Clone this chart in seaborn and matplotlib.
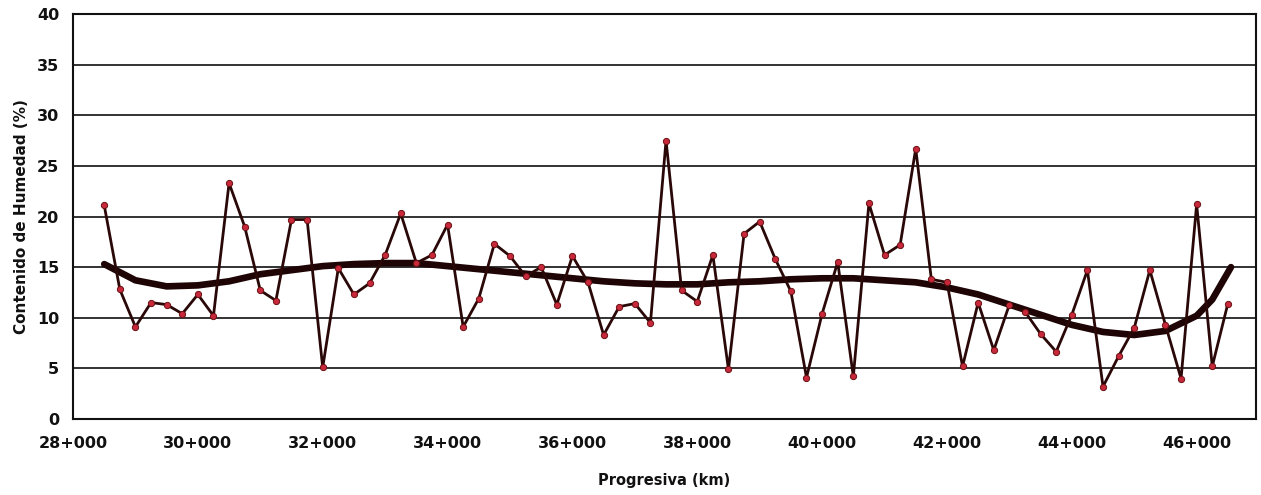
import matplotlib
matplotlib.use("Agg")
import matplotlib.pyplot as plt
import seaborn as sns
from matplotlib.ticker import FuncFormatter, FixedLocator

# ---- data ----
progresiva_km = [28.50, 28.75, 29.00, 29.25, 29.50, 29.75, 30.00, 30.25, 30.50, 30.75,
                 31.00, 31.25, 31.50, 31.75, 32.00, 32.25, 32.50, 32.75, 33.00, 33.25,
                 33.50, 33.75, 34.00, 34.25, 34.50, 34.75, 35.00, 35.25, 35.50, 35.75,
                 36.00, 36.25, 36.50, 36.75, 37.00, 37.25, 37.50, 37.75, 38.00, 38.25,
                 38.50, 38.75, 39.00, 39.25, 39.50, 39.75, 40.00, 40.25, 40.50, 40.75,
                 41.00, 41.25, 41.50, 41.75, 42.00, 42.25, 42.50, 42.75, 43.00, 43.25,
                 43.50, 43.75, 44.00, 44.25, 44.50, 44.75, 45.00, 45.25, 45.50, 45.75,
                 46.00, 46.25, 46.50]
humedad = [21.1, 12.8, 9.1, 11.5, 11.3, 10.4, 12.3, 10.2, 23.3, 19.0,
           12.7, 11.7, 19.7, 19.7, 5.1, 14.9, 12.3, 13.4, 16.2, 20.3,
           15.4, 16.2, 19.2, 9.1, 11.9, 17.3, 16.1, 14.1, 15.0, 11.3,
           16.1, 13.5, 8.3, 11.1, 11.4, 9.5, 27.5, 12.7, 11.6, 16.2,
           4.9, 18.3, 19.5, 15.8, 12.6, 4.1, 10.4, 15.5, 4.2, 21.3,
           16.2, 17.2, 26.7, 13.8, 13.5, 5.2, 11.5, 6.8, 11.3, 10.6,
           8.4, 6.65, 10.3, 14.7, 3.2, 6.2, 9.0, 14.7, 9.3, 4.0,
           21.2, 5.2, 11.4]

tendencia_km = [28.5, 29.0, 29.5, 30.0, 30.5, 31.0, 31.5, 32.0, 32.5, 33.0,
                33.5, 34.0, 34.5, 35.0, 35.5, 36.0, 36.5, 37.0, 37.5, 38.0,
                38.5, 39.0, 39.5, 40.0, 40.5, 41.0, 41.5, 42.0, 42.5, 43.0,
                43.5, 44.0, 44.5, 45.0, 45.5, 46.0, 46.25, 46.55]
tendencia = [15.3, 13.7, 13.1, 13.2, 13.6, 14.3, 14.7, 15.1, 15.3, 15.4,
             15.4, 15.1, 14.8, 14.5, 14.2, 13.9, 13.6, 13.4, 13.3, 13.3,
             13.5, 13.6, 13.8, 13.9, 13.9, 13.7, 13.5, 13.0, 12.3, 11.3,
             10.3, 9.3, 8.6, 8.3, 8.7, 10.2, 11.8, 15.0]

x_ticks = [28, 30, 32, 34, 36, 38, 40, 42, 44, 46]
y_ticks = [0, 5, 10, 15, 20, 25, 30, 35, 40]

# ---- style ----
sns.set_theme(style="white")
plt.rcParams['font.family'] = ['DejaVu Sans']

fig = plt.figure(figsize=(12.61, 4.95), dpi=100)
ax = fig.add_axes([0.0579, 0.1535, 0.9381, 0.8182])

# trend line (thick)
sns.lineplot(x=tendencia_km, y=tendencia, ax=ax, color="#1e0404",
             linewidth=4.8, zorder=3, sort=False)
# data line with markers
sns.lineplot(x=progresiva_km, y=humedad, ax=ax, color="#2a0808",
             linewidth=2.0, marker="o", markersize=4.5,
             markerfacecolor="#c8283c", markeredgecolor="#6a1010",
             markeredgewidth=0.7, zorder=4, sort=False)

ax.set_xlim(28, 46.95)
ax.set_ylim(0, 40)
ax.xaxis.set_major_locator(FixedLocator(x_ticks))
ax.yaxis.set_major_locator(FixedLocator(y_ticks))
ax.xaxis.set_major_formatter(FuncFormatter(lambda v, p: f"{int(round(v))}+000"))
ax.yaxis.set_major_formatter(FuncFormatter(lambda v, p: f"{int(round(v))}"))

ax.yaxis.grid(True, color="#222222", linewidth=1.3)
ax.xaxis.grid(False)
ax.set_axisbelow(True)
for s in ax.spines.values():
    s.set_visible(True)
    s.set_color("#111111")
    s.set_linewidth(1.5)

ax.tick_params(axis="both", direction="out", length=6, width=1.2,
               color="#111111", labelsize=11.5, labelcolor="#111111", pad=4)
ax.tick_params(axis="x", pad=6)
for lbl in ax.get_xticklabels() + ax.get_yticklabels():
    lbl.set_fontweight("bold")

ax.set_xlabel("Progresiva (km)", fontsize=10.5, fontweight="bold",
              color="#111111", labelpad=16)
ax.set_ylabel("Contenido de Humedad (%)", fontsize=11, fontweight="bold",
              color="#111111", labelpad=6)

fig.savefig("out.png", dpi=100, facecolor="white")
